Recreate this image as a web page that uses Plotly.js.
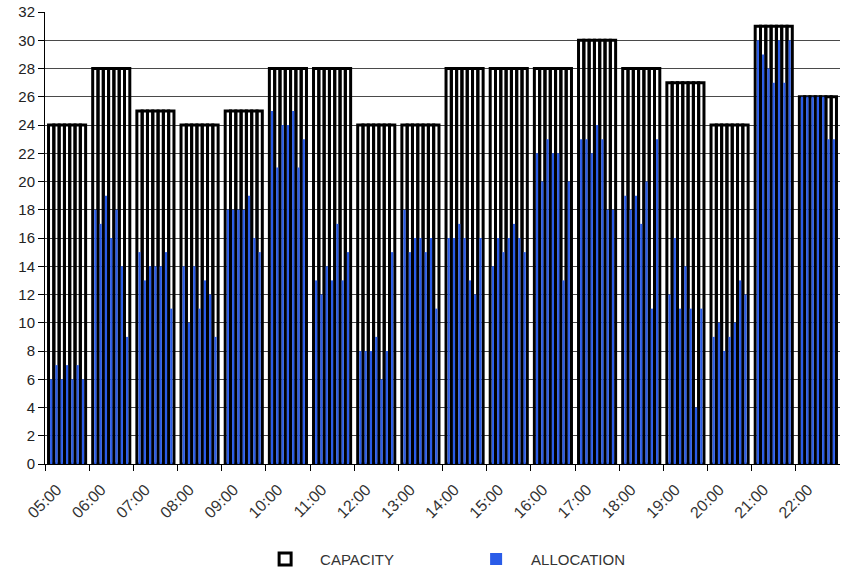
<!DOCTYPE html>
<html>
<head>
<meta charset="utf-8">
<script src="https://cdn.plot.ly/plotly-3.0.1.min.js"></script>
<style>html,body{margin:0;padding:0;background:#fff;}#chart{width:843px;height:579px;}</style>
</head>
<body>
<div id="chart"></div>
<script>
const hours = ["05:00","06:00","07:00","08:00","09:00","10:00","11:00","12:00","13:00","14:00","15:00","16:00","17:00","18:00","19:00","20:00","21:00","22:00"];
const capacity = [24,28,25,24,25,28,28,24,24,28,28,28,30,28,27,24,31,26];
const alloc0500 = [6,7,6,7,6,7,6];
const alloc0600 = [18,17,19,16,18,14,9];
const alloc0700 = [15,13,14,14,14,15,11];
const alloc0800 = [14,10,14,11,13,12,9];
const alloc0900 = [18,18,18,18,19,16,15];
const alloc1000 = [25,21,24,24,25,21,23];
const alloc1100 = [13,12,14,13,17,13,15];
const alloc1200 = [8,8,8,9,6,8,15];
const alloc1300 = [18,15,16,16,15,16,11];
const alloc1400 = [16,16,17,16,13,12,16];
const alloc1500 = [14,16,15,16,17,16,15];
const alloc1600 = [22,20,23,22,22,13,20];
const alloc1700 = [23,23,22,24,23,18,18];
const alloc1800 = [19,18,19,17,20,11,23];
const alloc1900 = [12,16,11,14,11,4,11];
const alloc2000 = [9,10,8,9,10,13,12];
const alloc2100 = [30,29,28,27,30,27,30];
const alloc2200 = [26,26,26,26,26,23,23];

const allocation = [alloc0500,alloc0600,alloc0700,alloc0800,alloc0900,alloc1000,alloc1100,alloc1200,alloc1300,alloc1400,alloc1500,alloc1600,alloc1700,alloc1800,alloc1900,alloc2000,alloc2100,alloc2200];

const OFFSET = 0.08, SLOTW = 0.12;
const xs = [], capY = [], allocY = [];
allocation.forEach((grp, i) => {
  grp.forEach((v, k) => {
    xs.push(i + OFFSET + (k + 0.5) * SLOTW);
    capY.push(capacity[i]);
    allocY.push(v);
  });
});

const traces = [
  {
    type: 'bar', name: 'CAPACITY', x: xs, y: capY, width: SLOTW,
    marker: {color: 'rgba(255,255,255,0)', line: {color: '#000', width: 3}},
    hoverinfo: 'skip'
  },
  {
    type: 'bar', name: 'ALLOCATION', x: xs, y: allocY, width: SLOTW * 0.42,
    marker: {color: '#2a5ce8', line: {width: 0}},
    hoverinfo: 'skip'
  }
];

const layout = {
  width: 843, height: 579,
  margin: {l: 45, r: 3, t: 12, b: 115, autoexpand: false},
  paper_bgcolor: '#fff', plot_bgcolor: '#fff',
  barmode: 'overlay',
  font: {family: 'Liberation Sans, Arial, sans-serif', size: 14, color: '#222'},
  xaxis: {
    range: [0, 18], tickvals: hours.map((h, i) => i), ticktext: hours,
    tickangle: -45, ticks: 'outside', ticklen: 6, tickcolor: '#000',
    ticklabelshift: 12, ticklabelstandoff: 3,
    showline: true, linecolor: '#000', linewidth: 1, showgrid: false, zeroline: false,
    tickfont: {size: 16, color: '#333'}, automargin: false
  },
  yaxis: {
    range: [0, 32], dtick: 2, tick0: 0, ticks: 'outside', ticklen: 6, tickcolor: '#000',
    showline: true, linecolor: '#000', linewidth: 1,
    showgrid: true, gridcolor: '#4a4a4a', gridwidth: 1, zeroline: false,
    tickfont: {size: 15, color: '#222'}, automargin: false
  },
  showlegend: true,
  legend: {
    orientation: 'h', x: 0.258, xanchor: 'left', y: -0.174, yanchor: 'top',
    entrywidth: 136, entrywidthmode: 'pixels', itemwidth: 60,
    font: {size: 15, color: '#333'}, traceorder: 'normal'
  }
};

Plotly.newPlot('chart', traces, layout, {staticPlot: true, displayModeBar: false});
</script>
</body>
</html>
